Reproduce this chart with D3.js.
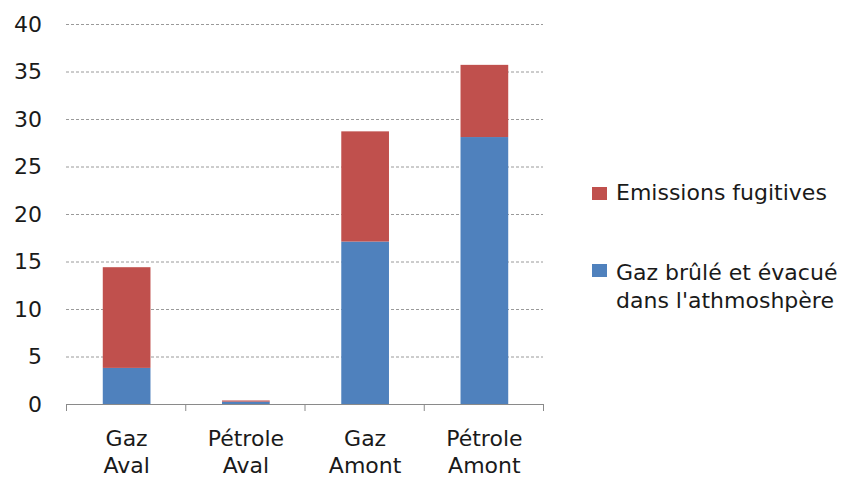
<!DOCTYPE html>
<html>
<head>
<meta charset="utf-8">
<script src="https://cdn.jsdelivr.net/npm/d3@7"></script>
<style>
  body { margin: 0; background: #fff; }
  text { font-family: "DejaVu Sans", sans-serif; fill: #1a1a1a; }
</style>
</head>
<body>
<script>
// categories and the two stacked series
var categories = [["Gaz", "Aval"], ["Pétrole", "Aval"], ["Gaz", "Amont"], ["Pétrole", "Amont"]];
var gaz_brule = [3.8, 0.25, 17.1, 28.1];
var emissions = [10.6, 0.12, 11.6, 7.6];
var series_names = ["Emissions fugitives", ["Gaz brûlé et évacué", "dans l'athmoshpère"]];
var y_ticks = [0, 5, 10, 15, 20, 25, 30, 35, 40];

var w_svg = 859;
var h_svg = 477;
var fsize = 22;

var svg = d3.select("body").append("svg")
  .attr("width", w_svg)
  .attr("height", h_svg);

// plot area
var p_left = 66, p_right = 543, p_top = 24, p_bottom = 404;

var idx = categories.map(function(d, i) { return i; });
var xScale = d3.scaleBand().domain(idx).range([p_left, p_right]).paddingInner(0.6).paddingOuter(0.3);
var yScale = d3.scaleLinear().domain([0, 40]).range([p_bottom, p_top]);

// dashed gridlines
svg.append("g").selectAll("line")
  .data(y_ticks.slice(1))
  .enter().append("line")
  .attr("x1", p_left).attr("x2", p_right)
  .attr("y1", function(d) { return yScale(d) + 0.5; })
  .attr("y2", function(d) { return yScale(d) + 0.5; })
  .attr("stroke", "#9a9a9a")
  .attr("stroke-width", 1)
  .attr("stroke-dasharray", "3,2");

// y labels
var y_axis = d3.axisLeft(yScale).tickValues(y_ticks).tickSize(0).tickPadding(0);
var gy = svg.append("g").attr("transform", "translate(42,0)").call(y_axis);
gy.select(".domain").remove();
gy.selectAll("text")
  .attr("font-family", "DejaVu Sans, sans-serif")
  .attr("font-size", fsize)
  .attr("fill", "#1a1a1a");

// stacked bars
var stackData = idx.map(function(i) { return {i: i, blue: gaz_brule[i], red: emissions[i]}; });
var stack = d3.stack().keys(["blue", "red"])(stackData);
var colors = {blue: "#4F81BD", red: "#C0504D"};

svg.append("g").selectAll("g")
  .data(stack)
  .enter().append("g")
  .attr("fill", function(s) { return colors[s.key]; })
  .selectAll("rect")
  .data(function(s) { return s; })
  .enter().append("rect")
  .attr("x", function(d) { return xScale(d.data.i) + 1; })
  .attr("width", xScale.bandwidth())
  .attr("y", function(d) { return yScale(d[1]); })
  .attr("height", function(d) { return yScale(d[0]) - yScale(d[1]); });

// x axis line and ticks at category boundaries
svg.append("line")
  .attr("x1", p_left).attr("x2", p_right)
  .attr("y1", p_bottom + 0.5).attr("y2", p_bottom + 0.5)
  .attr("stroke", "#8a8a8a");
var step = xScale.step();
svg.append("g").selectAll("line")
  .data(d3.range(categories.length + 1))
  .enter().append("line")
  .attr("x1", function(d) { return p_left + d * step + 0.5; })
  .attr("x2", function(d) { return p_left + d * step + 0.5; })
  .attr("y1", p_bottom).attr("y2", p_bottom + 7)
  .attr("stroke", "#8a8a8a");

// category labels (two lines)
var lab = svg.append("g").selectAll("text")
  .data(categories)
  .enter().append("text")
  .attr("text-anchor", "middle")
  .attr("font-size", fsize)
  .attr("x", function(d, i) { return xScale(i) + xScale.bandwidth() / 2 + 1; })
  .attr("y", 446);
lab.append("tspan").text(function(d) { return d[0]; });
lab.append("tspan")
  .attr("x", function(d, i) { return xScale(i) + xScale.bandwidth() / 2 + 1; })
  .attr("dy", 27)
  .text(function(d) { return d[1]; });

// legend
var leg = svg.append("g");
leg.append("rect").attr("x", 592).attr("y", 187).attr("width", 15).attr("height", 13).attr("fill", colors.red);
leg.append("text").attr("x", 616).attr("y", 200).attr("font-size", fsize).text(series_names[0]);
leg.append("rect").attr("x", 592).attr("y", 264).attr("width", 15).attr("height", 13).attr("fill", colors.blue);
var t2 = leg.append("text").attr("x", 616).attr("y", 280).attr("font-size", fsize);
t2.append("tspan").text(series_names[1][0]);
t2.append("tspan").attr("x", 616).attr("dy", 28).text(series_names[1][1]);
</script>
</body>
</html>
